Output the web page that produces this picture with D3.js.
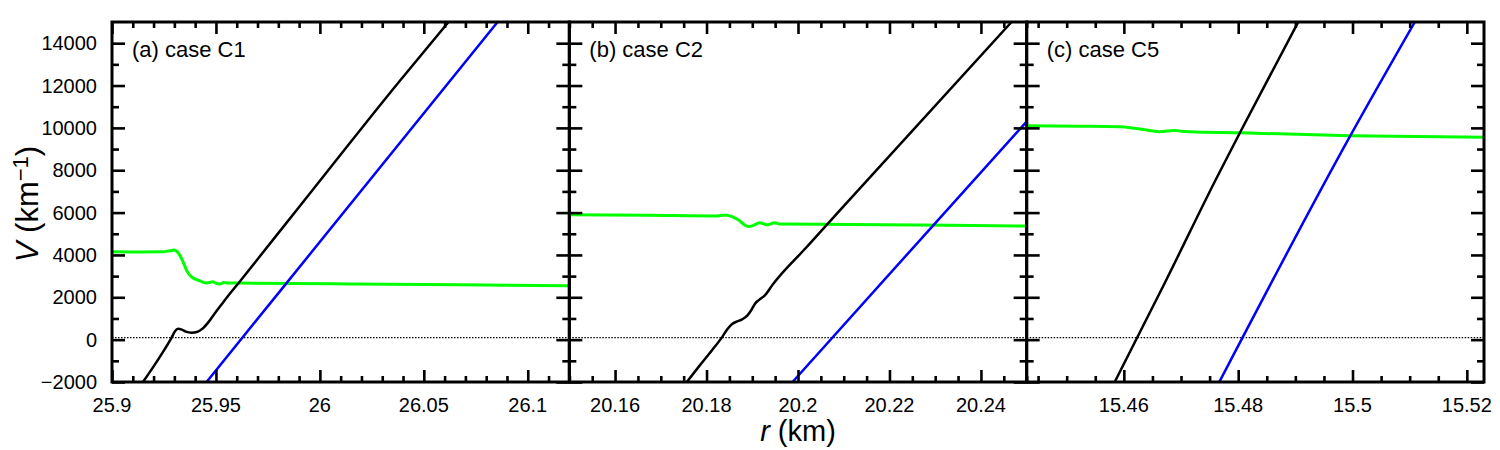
<!DOCTYPE html>
<html>
<head>
<meta charset="utf-8">
<script src="https://cdn.jsdelivr.net/npm/d3@7"></script>
<style>
  body { margin: 0; background: #fff; }
  text { font-family: "Liberation Sans", Arial, Helvetica, sans-serif; fill: #000; }
</style>
</head>
<body>
<div id="chart"></div>
<script>
// panel labels and x ranges (km)
let panelLabels = ['(a) case C1', '(b) case C2', '(c) case C5'];
let xDomains = [[25.9, 26.12], [20.15, 20.25], [15.443, 15.523]];
let xMajor = [[25.9, 25.95, 26, 26.05, 26.1],
              [20.16, 20.18, 20.2, 20.22, 20.24],
              [15.46, 15.48, 15.5, 15.52]];
let xMinorStep = [0.01, 0.005, 0.005];

// shared V axis
let yDomain = [-2000, 15000];
let yTicks = [-2000, 0, 2000, 4000, 6000, 8000, 10000, 12000, 14000];
let yMinor = [-1000, 1000, 3000, 5000, 7000, 9000, 11000, 13000];
let refLine = 100;

// curves, [r, V]
let blackC1 = [[25.9149, -2000], [25.9231, -800], [25.9288, 120], [25.9303, 400], [25.9318, 510],
  [25.9336, 470], [25.9355, 380], [25.9383, 330], [25.9408, 360], [25.9437, 530], [25.9466, 850],
  [25.9495, 1250], [25.9519, 1560], [25.9543, 1870], [25.9615, 2750], [25.9903, 6300],
  [26.0383, 12200], [26.0619, 15000]];
let blueC1 = [[25.9455, -2000], [25.9823, 2470], [26.0855, 15000]];
let greenC1 = [[25.9, 4150], [25.9135, 4140], [25.9245, 4150], [25.9279, 4200], [25.9298, 4230],
  [25.9322, 4050], [25.9341, 3700], [25.936, 3250], [25.9384, 2950], [25.9423, 2780],
  [25.9451, 2680], [25.9471, 2700], [25.9485, 2730], [25.9504, 2650], [25.9519, 2630],
  [25.9538, 2700], [25.9557, 2680], [25.9615, 2670], [26.0143, 2630], [26.0671, 2590], [26.12, 2550]];

let blackC2 = [[20.1757, -2000], [20.1784, -1250], [20.1812, -500], [20.1834, 120], [20.1845, 480],
  [20.1856, 740], [20.1867, 860], [20.1878, 960], [20.1889, 1130], [20.1898, 1400],
  [20.1906, 1700], [20.1915, 1880], [20.1928, 2100], [20.1944, 2580], [20.2018, 4350],
  [20.209, 6070], [20.2467, 15000]];
let blueC2 = [[20.1988, -2000], [20.2285, 5140], [20.25, 10300]];
let greenC2 = [[20.15, 5900], [20.1675, 5870], [20.1819, 5840], [20.1833, 5870], [20.1844, 5880],
  [20.1857, 5800], [20.1872, 5620], [20.1883, 5420], [20.1892, 5340], [20.1903, 5400],
  [20.1916, 5520], [20.1925, 5470], [20.1933, 5420], [20.1942, 5480], [20.1949, 5520],
  [20.196, 5460], [20.2113, 5440], [20.2332, 5400], [20.25, 5360]];

let blackC5 = [[15.4584, -2000], [15.4672, 2700], [15.4762, 7620], [15.4803, 9770], [15.4905, 15000]];
let blueC5 = [[15.4767, -2000], [15.4996, 9620], [15.5109, 15000]];
let greenC5 = [[15.443, 10100], [15.4523, 10080], [15.4593, 10050], [15.4619, 9980], [15.4645, 9880],
  [15.4663, 9820], [15.4677, 9850], [15.4689, 9880], [15.4701, 9840], [15.4715, 9820],
  [15.4803, 9770], [15.4996, 9630], [15.523, 9560]];

let curves = [
  [greenC1, blueC1, blackC1],
  [greenC2, blueC2, blackC2],
  [greenC5, blueC5, blackC5]
];
let curveColors = ['#00ff00', '#0000ff', '#000000'];

let width = 1500, height = 450,
  margin = {top: 22, left: 112, right: 16, bottom: 68},
  plotW = width - margin.left - margin.right,
  plotH = height - margin.top - margin.bottom,
  panelW = plotW / 3;

let svg = d3.select('#chart')
  .append('svg')
    .attr('width', width)
    .attr('height', height);

let yScale = d3.scaleLinear()
  .domain(yDomain)
  .range([margin.top + plotH, margin.top]);

// helper: drop the domain path and thicken the ticks
function styleAxis(g) {
  g.select('.domain').remove();
  g.selectAll('.tick line').attr('stroke', '#000').attr('stroke-width', 2.6);
}

// turns -2000 into the typographic minus
function fmt(d) {
  return String(d).replace('-', '\u2212');
}

// y tick labels, left side only
svg.append('g')
  .selectAll('text')
  .data(yTicks)
  .enter()
  .append('text')
    .attr('x', margin.left - 15)
    .attr('y', function(d) { return yScale(d); })
    .attr('dy', '0.35em')
    .style('text-anchor', 'end')
    .style('font-size', '20px')
    .text(fmt);

for (let i = 0; i < 3; i++) {
  let x0 = margin.left + i * panelW;
  let xScale = d3.scaleLinear()
    .domain(xDomains[i])
    .range([x0, x0 + panelW]);

  let minor = d3.range(Math.ceil(xDomains[i][0] / xMinorStep[i] - 1e-6),
                       Math.floor(xDomains[i][1] / xMinorStep[i] + 1e-6) + 1)
    .map(function(k) { return +(k * xMinorStep[i]).toFixed(4); })
    .filter(function(v) { return xMajor[i].indexOf(v) < 0; });

  let panel = svg.append('g');

  // clip for the curves
  panel.append('clipPath')
    .attr('id', 'clip' + i)
    .append('rect')
      .attr('x', x0).attr('y', margin.top)
      .attr('width', panelW).attr('height', plotH);

  // dotted line near zero
  panel.append('line')
    .attr('x1', x0).attr('x2', x0 + panelW)
    .attr('y1', yScale(refLine)).attr('y2', yScale(refLine))
    .attr('stroke', '#000')
    .attr('stroke-width', 1.2)
    .attr('stroke-dasharray', '1.5,1.5');

  // curves
  let line = d3.line()
    .x(function(d) { return xScale(d[0]); })
    .y(function(d) { return yScale(d[1]); })
    .curve(d3.curveMonotoneX);

  panel.append('g')
    .attr('clip-path', 'url(#clip' + i + ')')
    .selectAll('path')
    .data(curves[i])
    .enter()
    .append('path')
      .attr('d', line)
      .attr('fill', 'none')
      .attr('stroke', function(d, j) { return curveColors[j]; })
      .attr('stroke-width', function(d, j) { return j === 0 ? 3 : 2.5; })
      .attr('stroke-linejoin', 'round')
      .attr('stroke-linecap', 'square');

  // x ticks, bottom and top
  let bottomY = margin.top + plotH;
  [[xMajor[i], 12], [minor, 6]].forEach(function(t) {
    panel.append('g')
      .attr('transform', 'translate(0,' + bottomY + ')')
      .call(d3.axisBottom(xScale).tickValues(t[0]).tickSize(-t[1]).tickFormat(''))
      .call(styleAxis);
    panel.append('g')
      .attr('transform', 'translate(0,' + margin.top + ')')
      .call(d3.axisTop(xScale).tickValues(t[0]).tickSize(-t[1]).tickFormat(''))
      .call(styleAxis);
  });

  // x tick labels
  panel.append('g')
    .selectAll('text')
    .data(xMajor[i])
    .enter()
    .append('text')
      .attr('x', function(d) { return xScale(d); })
      .attr('y', bottomY + 30)
      .style('text-anchor', 'middle')
      .style('font-size', '20px')
      .text(fmt);

  // y ticks on both sides of every panel, pointing inward
  [[yTicks, 13], [yMinor, 7]].forEach(function(t) {
    panel.append('g')
      .attr('transform', 'translate(' + x0 + ',0)')
      .call(d3.axisLeft(yScale).tickValues(t[0]).tickSize(-t[1]).tickFormat(''))
      .call(styleAxis);
    panel.append('g')
      .attr('transform', 'translate(' + (x0 + panelW) + ',0)')
      .call(d3.axisRight(yScale).tickValues(t[0]).tickSize(-t[1]).tickFormat(''))
      .call(styleAxis);
  });

  // frame
  panel.append('rect')
    .attr('x', x0).attr('y', margin.top)
    .attr('width', panelW).attr('height', plotH)
    .attr('fill', 'none')
    .attr('stroke', '#000')
    .attr('stroke-width', 3);

  // panel label
  panel.append('text')
    .attr('x', x0 + 20)
    .attr('y', margin.top + 35)
    .style('font-size', '22px')
    .text(panelLabels[i]);
}

// axis titles
let yTitle = svg.append('text')
  .attr('transform', 'translate(38,' + (margin.top + 182) + ') rotate(-90)')
  .style('text-anchor', 'middle')
  .style('font-size', '31px');
yTitle.append('tspan').style('font-style', 'italic').text('V');
yTitle.append('tspan').text(' (km');
yTitle.append('tspan').attr('baseline-shift', '45%').style('font-size', '22px').text('\u22121');
yTitle.append('tspan').text(')');

let xTitle = svg.append('text')
  .attr('x', margin.left + plotW / 2)
  .attr('y', 441)
  .style('text-anchor', 'middle')
  .style('font-size', '29px');
xTitle.append('tspan').style('font-style', 'italic').text('r');
xTitle.append('tspan').text(' (km)');
</script>
</body>
</html>
